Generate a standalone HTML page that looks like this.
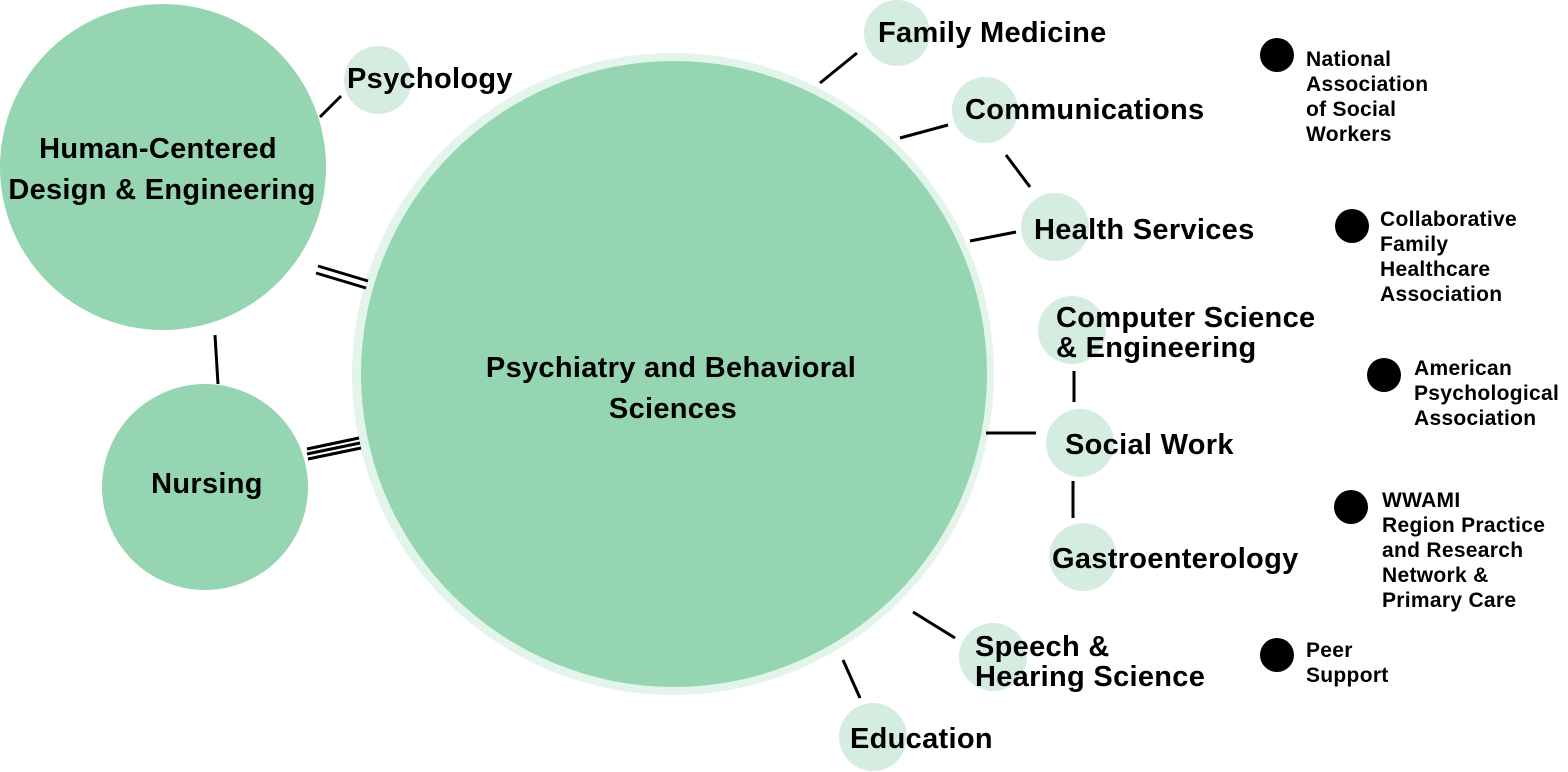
<!DOCTYPE html>
<html><head><meta charset="utf-8"><style>
html,body{margin:0;padding:0;background:#fff;width:1568px;height:772px;overflow:hidden}
text{font-family:"Liberation Sans",sans-serif;fill:#000}
.b{font-size:29px;font-weight:bold;letter-spacing:0.3px}
.s{font-size:21px;font-weight:bold;letter-spacing:0.3px}
</style></head><body>
<svg width="1568" height="772" viewBox="0 0 1568 772" xmlns="http://www.w3.org/2000/svg">
<g fill="#d4ede0">
<circle cx="673" cy="374" r="321" fill="#e3f4ea"/>
<circle cx="378" cy="80" r="34"/>
<circle cx="897" cy="33" r="33"/>
<circle cx="985" cy="110" r="33"/>
<circle cx="1055" cy="227" r="34"/>
<circle cx="1072" cy="330" r="34"/>
<circle cx="1080" cy="443" r="34"/>
<circle cx="1083" cy="557" r="34"/>
<circle cx="993" cy="657" r="34"/>
<circle cx="873" cy="737" r="34"/>
</g>
<g fill="#95d5b2">
<circle cx="674" cy="374" r="313"/>
<circle cx="163" cy="167" r="163"/>
<circle cx="205" cy="487" r="103"/>
</g>
<g stroke="#000" stroke-width="3" fill="none">
<line x1="320" y1="117" x2="341" y2="96"/>
<line x1="820" y1="83" x2="857" y2="53"/>
<line x1="900" y1="138" x2="948" y2="125"/>
<line x1="1006" y1="155" x2="1030" y2="187"/>
<line x1="970" y1="241" x2="1016" y2="232"/>
<line x1="1074" y1="371" x2="1074" y2="402"/>
<line x1="986" y1="433" x2="1036" y2="433"/>
<line x1="1073" y1="481" x2="1073" y2="518"/>
<line x1="913" y1="612" x2="955" y2="638"/>
<line x1="843" y1="660" x2="860" y2="698"/>
<line x1="215" y1="335" x2="218" y2="384"/>
<line x1="318" y1="266" x2="368" y2="281"/>
<line x1="316" y1="273" x2="366" y2="288"/>
<line x1="307" y1="449" x2="359" y2="438"/>
<line x1="307" y1="454" x2="360" y2="443"/>
<line x1="308" y1="459" x2="361" y2="448"/>
</g>
<g fill="#000">
<circle cx="1277" cy="55" r="17"/>
<circle cx="1352" cy="226" r="17"/>
<circle cx="1384" cy="375" r="17"/>
<circle cx="1351" cy="507" r="17"/>
<circle cx="1277" cy="655" r="17"/>
</g>
<g class="b">
<text x="671" y="377" text-anchor="middle">Psychiatry and Behavioral</text>
<text x="673" y="418" text-anchor="middle">Sciences</text>
<text x="158" y="158" text-anchor="middle">Human-Centered</text>
<text x="162" y="199" text-anchor="middle">Design &amp; Engineering</text>
<text x="207" y="493" text-anchor="middle">Nursing</text>
<text x="347" y="88">Psychology</text>
<text x="878" y="42">Family Medicine</text>
<text x="965" y="119">Communications</text>
<text x="1034" y="239">Health Services</text>
<text x="1056" y="327">Computer Science</text>
<text x="1056" y="357">&amp; Engineering</text>
<text x="1065" y="454">Social Work</text>
<text x="1052" y="568">Gastroenterology</text>
<text x="975" y="656">Speech &amp;</text>
<text x="975" y="686">Hearing Science</text>
<text x="850" y="748">Education</text>
</g>
<g class="s">
<text x="1306" y="66">National</text>
<text x="1306" y="91">Association</text>
<text x="1306" y="116">of Social</text>
<text x="1306" y="141">Workers</text>
<text x="1380" y="226">Collaborative</text>
<text x="1380" y="251">Family</text>
<text x="1380" y="276">Healthcare</text>
<text x="1380" y="301">Association</text>
<text x="1414" y="375">American</text>
<text x="1414" y="400">Psychological</text>
<text x="1414" y="425">Association</text>
<text x="1382" y="507">WWAMI</text>
<text x="1382" y="532">Region Practice</text>
<text x="1382" y="557">and Research</text>
<text x="1382" y="582">Network &amp;</text>
<text x="1382" y="607">Primary Care</text>
<text x="1306" y="657">Peer</text>
<text x="1306" y="682">Support</text>
</g>
</svg>
</body></html>
